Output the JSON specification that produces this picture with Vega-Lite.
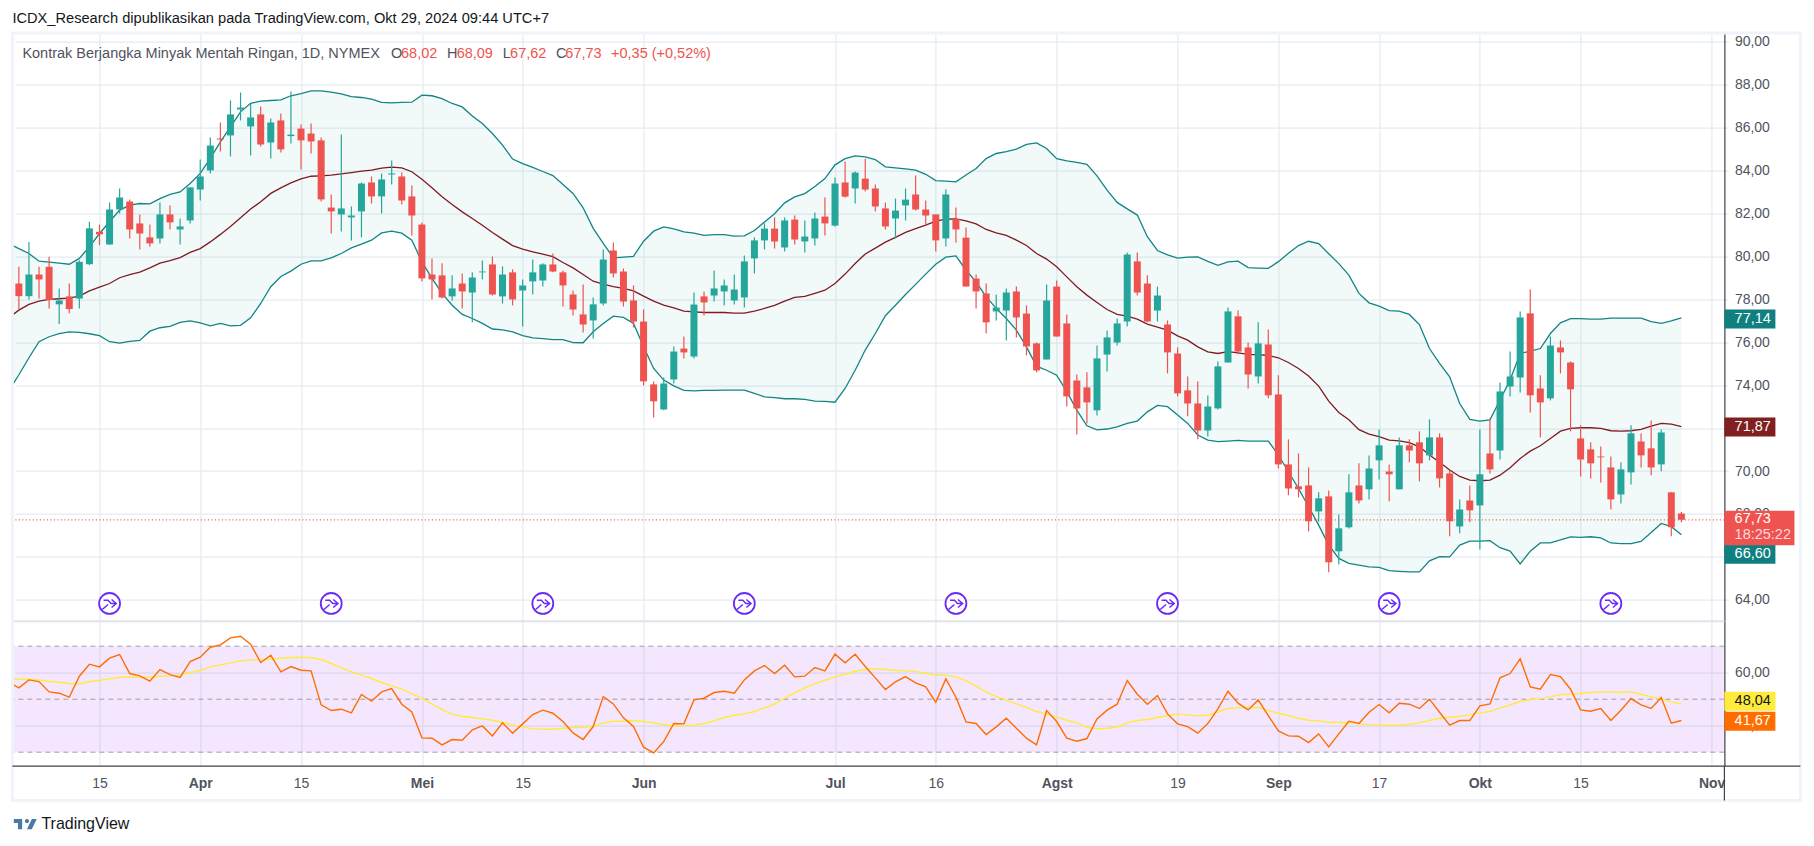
{
  "$schema": "https://vega.github.io/schema/vega-lite/v6.json",
  "background": "white",
  "padding": {"left": 10.4, "top": 10.6, "right": 0, "bottom": 0},
  "title": {"text": "ICDX_Research dipublikasikan pada TradingView.com, Okt 29, 2024 09:44 UTC+7", "anchor": "start", "frame": "group", "font": "Liberation Sans", "fontSize": 14.65, "fontWeight": "normal", "color": "#131722", "offset": 6},
  "datasets": {
    "bars": [
      {"date":"2024-03-04","up":80.59,"mid":77.14,"lo":73.74,"rsi":56.41,"ma":57.54},
      {"date":"2024-03-05","o":78.74,"h":79.52,"l":77.53,"c":78.15,"up":80.37,"mid":77.50,"lo":74.49,"rsi":54.27,"ma":57.54},
      {"date":"2024-03-06","o":78.15,"h":80.68,"l":78.00,"c":79.16,"up":80.14,"mid":77.77,"lo":75.28,"rsi":57.29,"ma":57.54},
      {"date":"2024-03-07","o":79.16,"h":79.52,"l":78.04,"c":78.93,"up":79.78,"mid":77.92,"lo":76.03,"rsi":56.66,"ma":57.29},
      {"date":"2024-03-08","o":79.52,"h":79.99,"l":77.58,"c":77.97,"up":79.74,"mid":78.00,"lo":76.26,"rsi":52.76,"ma":56.66},
      {"date":"2024-03-11","o":77.77,"h":78.51,"l":76.85,"c":77.95,"up":79.69,"mid":78.03,"lo":76.41,"rsi":52.26,"ma":56.41},
      {"date":"2024-03-12","o":78.14,"h":78.74,"l":77.35,"c":77.55,"up":79.64,"mid":78.06,"lo":76.49,"rsi":50.75,"ma":55.91},
      {"date":"2024-03-13","o":78.04,"h":79.83,"l":77.58,"c":79.75,"up":79.91,"mid":78.15,"lo":76.46,"rsi":58.68,"ma":55.78},
      {"date":"2024-03-14","o":79.64,"h":81.62,"l":79.60,"c":81.31,"up":80.45,"mid":78.40,"lo":76.40,"rsi":63.21,"ma":56.66},
      {"date":"2024-03-15","o":81.15,"h":81.49,"l":80.53,"c":81.03,"up":81.07,"mid":78.57,"lo":76.31,"rsi":62.20,"ma":57.17},
      {"date":"2024-03-18","o":80.56,"h":82.52,"l":80.54,"c":82.19,"up":81.62,"mid":78.74,"lo":76.03,"rsi":65.47,"ma":57.67},
      {"date":"2024-03-19","o":82.19,"h":83.17,"l":82.00,"c":82.75,"up":82.16,"mid":79.01,"lo":75.96,"rsi":66.85,"ma":58.30},
      {"date":"2024-03-20","o":82.56,"h":82.66,"l":80.84,"c":81.26,"up":82.39,"mid":79.15,"lo":76.04,"rsi":59.68,"ma":58.42},
      {"date":"2024-03-21","o":81.54,"h":81.96,"l":80.33,"c":81.07,"up":82.47,"mid":79.27,"lo":76.09,"rsi":58.80,"ma":58.30},
      {"date":"2024-03-22","o":80.89,"h":81.49,"l":80.45,"c":80.61,"up":82.45,"mid":79.47,"lo":76.52,"rsi":56.79,"ma":58.42},
      {"date":"2024-03-25","o":80.84,"h":82.52,"l":80.61,"c":81.96,"up":82.70,"mid":79.69,"lo":76.68,"rsi":61.19,"ma":58.68},
      {"date":"2024-03-26","o":81.96,"h":82.38,"l":81.26,"c":81.59,"up":82.89,"mid":79.81,"lo":76.74,"rsi":59.30,"ma":58.80},
      {"date":"2024-03-27","o":81.26,"h":81.77,"l":80.56,"c":81.40,"up":83.01,"mid":79.95,"lo":76.93,"rsi":58.17,"ma":59.18},
      {"date":"2024-03-28","o":81.68,"h":83.22,"l":81.54,"c":83.22,"up":83.40,"mid":80.19,"lo":77.00,"rsi":64.21,"ma":60.06},
      {"date":"2024-04-01","o":83.12,"h":84.52,"l":82.61,"c":83.73,"up":83.87,"mid":80.37,"lo":76.91,"rsi":65.85,"ma":60.81},
      {"date":"2024-04-02","o":84.01,"h":85.55,"l":83.87,"c":85.17,"up":84.57,"mid":80.68,"lo":76.77,"rsi":69.62,"ma":62.20},
      {"date":"2024-04-03","o":85.50,"h":86.24,"l":84.89,"c":85.45,"up":85.34,"mid":81.03,"lo":76.88,"rsi":70.50,"ma":62.95},
      {"date":"2024-04-04","o":85.64,"h":87.27,"l":84.66,"c":86.62,"up":86.04,"mid":81.40,"lo":76.77,"rsi":73.14,"ma":63.71},
      {"date":"2024-04-05","o":86.85,"h":87.64,"l":86.34,"c":86.94,"up":86.74,"mid":81.80,"lo":76.79,"rsi":73.77,"ma":64.46},
      {"date":"2024-04-08","o":86.06,"h":87.11,"l":84.71,"c":86.48,"up":87.14,"mid":82.21,"lo":77.14,"rsi":70.75,"ma":64.84},
      {"date":"2024-04-09","o":86.62,"h":86.99,"l":85.13,"c":85.22,"up":87.24,"mid":82.55,"lo":77.81,"rsi":63.83,"ma":64.84},
      {"date":"2024-04-10","o":85.31,"h":86.43,"l":84.57,"c":86.24,"up":87.27,"mid":82.94,"lo":78.59,"rsi":66.60,"ma":65.09},
      {"date":"2024-04-11","o":86.34,"h":86.66,"l":84.85,"c":84.99,"up":87.30,"mid":83.20,"lo":79.07,"rsi":60.31,"ma":65.47},
      {"date":"2024-04-12","o":85.61,"h":87.69,"l":85.27,"c":85.68,"up":87.49,"mid":83.43,"lo":79.32,"rsi":62.32,"ma":65.72},
      {"date":"2024-04-15","o":85.96,"h":86.15,"l":84.05,"c":85.41,"up":87.59,"mid":83.62,"lo":79.64,"rsi":60.94,"ma":65.72},
      {"date":"2024-04-16","o":85.73,"h":86.20,"l":84.80,"c":85.36,"up":87.72,"mid":83.74,"lo":79.80,"rsi":60.69,"ma":65.72},
      {"date":"2024-04-17","o":85.41,"h":85.55,"l":82.56,"c":82.66,"up":87.72,"mid":83.76,"lo":79.80,"rsi":47.86,"ma":64.97},
      {"date":"2024-04-18","o":82.28,"h":82.89,"l":81.07,"c":82.10,"up":87.66,"mid":83.79,"lo":79.94,"rsi":45.72,"ma":63.46},
      {"date":"2024-04-19","o":81.96,"h":85.68,"l":81.17,"c":82.24,"up":87.58,"mid":83.85,"lo":80.14,"rsi":46.22,"ma":61.95},
      {"date":"2024-04-22","o":81.82,"h":82.33,"l":80.75,"c":81.91,"up":87.45,"mid":83.91,"lo":80.40,"rsi":44.84,"ma":60.31},
      {"date":"2024-04-23","o":82.10,"h":83.45,"l":80.89,"c":83.40,"up":87.41,"mid":83.98,"lo":80.58,"rsi":51.76,"ma":59.18},
      {"date":"2024-04-24","o":83.45,"h":83.73,"l":82.47,"c":82.80,"up":87.33,"mid":84.02,"lo":80.76,"rsi":49.24,"ma":57.80},
      {"date":"2024-04-25","o":82.80,"h":83.87,"l":82.00,"c":83.59,"up":87.18,"mid":84.12,"lo":81.10,"rsi":52.76,"ma":56.29},
      {"date":"2024-04-26","o":83.82,"h":84.47,"l":83.36,"c":83.87,"up":87.16,"mid":84.16,"lo":81.18,"rsi":54.02,"ma":55.03},
      {"date":"2024-04-29","o":83.73,"h":83.91,"l":82.42,"c":82.61,"up":87.18,"mid":84.13,"lo":81.09,"rsi":48.11,"ma":53.77},
      {"date":"2024-04-30","o":82.80,"h":83.31,"l":80.98,"c":81.91,"up":87.19,"mid":83.95,"lo":80.76,"rsi":45.22,"ma":52.01},
      {"date":"2024-05-01","o":81.49,"h":81.58,"l":78.84,"c":78.98,"up":87.52,"mid":83.60,"lo":79.75,"rsi":35.41,"ma":50.37},
      {"date":"2024-05-02","o":79.16,"h":79.91,"l":78.00,"c":78.93,"up":87.49,"mid":83.20,"lo":78.98,"rsi":35.28,"ma":48.11},
      {"date":"2024-05-03","o":79.12,"h":79.68,"l":78.04,"c":78.09,"up":87.36,"mid":82.78,"lo":78.28,"rsi":32.76,"ma":46.10},
      {"date":"2024-05-06","o":78.14,"h":79.12,"l":77.95,"c":78.51,"up":87.13,"mid":82.42,"lo":77.73,"rsi":34.78,"ma":44.34},
      {"date":"2024-05-07","o":78.74,"h":79.21,"l":77.58,"c":78.37,"up":86.97,"mid":82.08,"lo":77.30,"rsi":34.52,"ma":43.58},
      {"date":"2024-05-08","o":78.32,"h":79.26,"l":76.93,"c":79.02,"up":86.55,"mid":81.77,"lo":77.11,"rsi":38.42,"ma":43.08},
      {"date":"2024-05-09","o":79.26,"h":79.81,"l":78.93,"c":79.30,"up":86.20,"mid":81.46,"lo":76.88,"rsi":39.93,"ma":42.57},
      {"date":"2024-05-10","o":79.63,"h":80.00,"l":78.18,"c":78.23,"up":85.73,"mid":81.12,"lo":76.62,"rsi":36.16,"ma":42.07},
      {"date":"2024-05-13","o":78.14,"h":79.54,"l":77.81,"c":79.16,"up":85.19,"mid":80.81,"lo":76.58,"rsi":41.07,"ma":41.32},
      {"date":"2024-05-14","o":79.26,"h":79.40,"l":77.72,"c":78.00,"up":84.54,"mid":80.51,"lo":76.49,"rsi":37.17,"ma":40.31},
      {"date":"2024-05-15","o":78.42,"h":78.93,"l":76.74,"c":78.65,"up":84.33,"mid":80.34,"lo":76.31,"rsi":40.69,"ma":39.56},
      {"date":"2024-05-16","o":78.84,"h":79.86,"l":78.23,"c":79.26,"up":84.15,"mid":80.22,"lo":76.21,"rsi":44.21,"ma":38.80},
      {"date":"2024-05-17","o":78.88,"h":79.68,"l":78.60,"c":79.63,"up":83.96,"mid":80.11,"lo":76.17,"rsi":45.85,"ma":38.68},
      {"date":"2024-05-20","o":79.63,"h":80.14,"l":79.26,"c":79.30,"up":83.77,"mid":79.99,"lo":76.13,"rsi":44.71,"ma":38.68},
      {"date":"2024-05-21","o":79.26,"h":79.35,"l":77.67,"c":78.65,"up":83.36,"mid":79.72,"lo":76.13,"rsi":41.57,"ma":39.05},
      {"date":"2024-05-22","o":78.23,"h":78.42,"l":77.25,"c":77.53,"up":82.94,"mid":79.47,"lo":75.99,"rsi":37.29,"ma":39.30},
      {"date":"2024-05-23","o":77.30,"h":78.70,"l":76.46,"c":76.83,"up":82.27,"mid":79.16,"lo":75.98,"rsi":34.78,"ma":39.43},
      {"date":"2024-05-24","o":77.02,"h":78.09,"l":76.18,"c":77.77,"up":81.31,"mid":78.85,"lo":76.49,"rsi":39.68,"ma":39.81},
      {"date":"2024-05-28","o":77.81,"h":80.33,"l":77.72,"c":79.86,"up":80.61,"mid":78.71,"lo":76.88,"rsi":51.00,"ma":41.07},
      {"date":"2024-05-29","o":80.28,"h":80.65,"l":79.02,"c":79.21,"up":79.94,"mid":78.60,"lo":77.22,"rsi":48.23,"ma":41.70},
      {"date":"2024-05-30","o":79.30,"h":79.44,"l":77.67,"c":77.90,"up":79.97,"mid":78.51,"lo":77.16,"rsi":42.95,"ma":41.70},
      {"date":"2024-05-31","o":77.95,"h":78.65,"l":76.69,"c":76.97,"up":80.01,"mid":78.40,"lo":76.88,"rsi":39.68,"ma":41.95},
      {"date":"2024-06-03","o":76.97,"h":77.53,"l":73.99,"c":74.18,"up":80.71,"mid":78.15,"lo":75.79,"rsi":31.88,"ma":41.57},
      {"date":"2024-06-04","o":74.04,"h":74.18,"l":72.50,"c":73.25,"up":81.18,"mid":77.92,"lo":74.78,"rsi":29.74,"ma":41.07},
      {"date":"2024-06-05","o":72.87,"h":74.36,"l":72.83,"c":74.08,"up":81.38,"mid":77.73,"lo":74.24,"rsi":34.02,"ma":40.44},
      {"date":"2024-06-06","o":74.27,"h":75.81,"l":74.08,"c":75.57,"up":81.29,"mid":77.61,"lo":73.97,"rsi":40.82,"ma":40.06},
      {"date":"2024-06-07","o":75.71,"h":76.27,"l":75.25,"c":75.53,"up":81.15,"mid":77.45,"lo":73.76,"rsi":40.69,"ma":39.93},
      {"date":"2024-06-10","o":75.34,"h":78.32,"l":75.25,"c":77.76,"up":81.09,"mid":77.42,"lo":73.74,"rsi":49.74,"ma":40.19},
      {"date":"2024-06-11","o":78.14,"h":78.37,"l":77.25,"c":77.86,"up":80.98,"mid":77.39,"lo":73.76,"rsi":50.37,"ma":40.82},
      {"date":"2024-06-12","o":78.18,"h":79.35,"l":77.90,"c":78.51,"up":81.02,"mid":77.39,"lo":73.76,"rsi":52.51,"ma":41.82},
      {"date":"2024-06-13","o":78.37,"h":78.93,"l":77.72,"c":78.65,"up":81.02,"mid":77.39,"lo":73.77,"rsi":53.02,"ma":43.08},
      {"date":"2024-06-14","o":77.95,"h":79.16,"l":77.76,"c":78.46,"up":80.95,"mid":77.36,"lo":73.77,"rsi":52.26,"ma":43.96},
      {"date":"2024-06-17","o":78.09,"h":80.05,"l":77.62,"c":79.77,"up":80.96,"mid":77.36,"lo":73.77,"rsi":57.29,"ma":44.46},
      {"date":"2024-06-18","o":79.91,"h":80.89,"l":79.21,"c":80.75,"up":81.21,"mid":77.45,"lo":73.62,"rsi":60.69,"ma":45.34},
      {"date":"2024-06-20","o":80.75,"h":81.54,"l":80.33,"c":81.30,"up":81.61,"mid":77.58,"lo":73.46,"rsi":62.70,"ma":46.73},
      {"date":"2024-06-21","o":81.30,"h":81.82,"l":80.37,"c":80.70,"up":81.99,"mid":77.72,"lo":73.42,"rsi":59.68,"ma":48.11},
      {"date":"2024-06-24","o":80.42,"h":81.82,"l":80.23,"c":81.68,"up":82.50,"mid":77.92,"lo":73.37,"rsi":62.83,"ma":50.37},
      {"date":"2024-06-25","o":81.72,"h":81.91,"l":80.56,"c":80.79,"up":82.78,"mid":78.09,"lo":73.37,"rsi":58.42,"ma":52.39},
      {"date":"2024-06-26","o":80.70,"h":81.68,"l":80.19,"c":80.93,"up":82.93,"mid":78.14,"lo":73.34,"rsi":58.68,"ma":54.27},
      {"date":"2024-06-27","o":80.84,"h":82.05,"l":80.51,"c":81.77,"up":83.26,"mid":78.28,"lo":73.26,"rsi":61.95,"ma":55.78},
      {"date":"2024-06-28","o":81.86,"h":82.75,"l":80.98,"c":81.54,"up":83.63,"mid":78.43,"lo":73.25,"rsi":60.69,"ma":57.17},
      {"date":"2024-07-01","o":81.44,"h":83.68,"l":81.40,"c":83.40,"up":84.27,"mid":78.74,"lo":73.21,"rsi":66.98,"ma":58.42},
      {"date":"2024-07-02","o":83.45,"h":84.43,"l":82.75,"c":82.79,"up":84.56,"mid":79.18,"lo":73.85,"rsi":63.71,"ma":59.43},
      {"date":"2024-07-03","o":83.17,"h":83.96,"l":82.47,"c":83.91,"up":84.69,"mid":79.67,"lo":74.70,"rsi":66.98,"ma":60.56},
      {"date":"2024-07-05","o":83.63,"h":84.56,"l":83.03,"c":83.12,"up":84.64,"mid":80.12,"lo":75.64,"rsi":62.32,"ma":61.19},
      {"date":"2024-07-08","o":83.17,"h":83.35,"l":82.10,"c":82.33,"up":84.52,"mid":80.39,"lo":76.41,"rsi":58.05,"ma":61.44},
      {"date":"2024-07-09","o":82.24,"h":82.52,"l":81.26,"c":81.40,"up":84.18,"mid":80.67,"lo":77.24,"rsi":53.64,"ma":61.19},
      {"date":"2024-07-10","o":81.77,"h":82.70,"l":80.84,"c":82.14,"up":84.13,"mid":80.89,"lo":77.73,"rsi":56.54,"ma":60.94},
      {"date":"2024-07-11","o":82.38,"h":83.17,"l":81.68,"c":82.65,"up":84.08,"mid":81.12,"lo":78.23,"rsi":58.55,"ma":60.69},
      {"date":"2024-07-12","o":82.89,"h":83.77,"l":82.14,"c":82.19,"up":84.02,"mid":81.30,"lo":78.70,"rsi":56.16,"ma":60.44},
      {"date":"2024-07-15","o":82.19,"h":82.61,"l":81.49,"c":81.91,"up":83.83,"mid":81.46,"lo":79.18,"rsi":54.65,"ma":59.81},
      {"date":"2024-07-16","o":81.96,"h":81.96,"l":80.23,"c":80.75,"up":83.54,"mid":81.65,"lo":79.64,"rsi":48.87,"ma":59.05},
      {"date":"2024-07-17","o":80.84,"h":83.12,"l":80.47,"c":82.89,"up":83.51,"mid":81.74,"lo":79.97,"rsi":57.67,"ma":59.05},
      {"date":"2024-07-18","o":81.75,"h":82.28,"l":80.65,"c":81.26,"up":83.48,"mid":81.75,"lo":80.03,"rsi":50.75,"ma":58.42},
      {"date":"2024-07-19","o":80.88,"h":81.35,"l":78.60,"c":78.60,"up":83.80,"mid":81.66,"lo":79.36,"rsi":41.44,"ma":56.92},
      {"date":"2024-07-22","o":78.97,"h":79.16,"l":77.58,"c":78.37,"up":84.10,"mid":81.52,"lo":78.82,"rsi":40.82,"ma":54.90},
      {"date":"2024-07-23","o":78.28,"h":78.74,"l":76.41,"c":76.93,"up":84.56,"mid":81.26,"lo":78.12,"rsi":36.66,"ma":52.76},
      {"date":"2024-07-24","o":77.44,"h":78.23,"l":77.02,"c":77.62,"up":84.80,"mid":81.10,"lo":77.58,"rsi":39.56,"ma":51.00},
      {"date":"2024-07-25","o":77.48,"h":78.51,"l":76.09,"c":78.32,"up":84.89,"mid":80.98,"lo":77.11,"rsi":42.83,"ma":49.62},
      {"date":"2024-07-26","o":78.37,"h":78.60,"l":76.23,"c":77.16,"up":85.00,"mid":80.76,"lo":76.57,"rsi":39.05,"ma":48.23},
      {"date":"2024-07-29","o":77.34,"h":77.72,"l":75.39,"c":75.81,"up":85.22,"mid":80.51,"lo":75.79,"rsi":35.28,"ma":46.85},
      {"date":"2024-07-30","o":75.95,"h":75.99,"l":74.60,"c":74.69,"up":85.29,"mid":80.14,"lo":74.89,"rsi":32.76,"ma":45.34},
      {"date":"2024-07-31","o":75.20,"h":78.70,"l":75.20,"c":77.95,"up":85.03,"mid":79.88,"lo":74.70,"rsi":45.72,"ma":44.46},
      {"date":"2024-08-01","o":78.60,"h":78.88,"l":76.27,"c":76.27,"up":84.56,"mid":79.52,"lo":74.47,"rsi":41.57,"ma":43.21},
      {"date":"2024-08-02","o":76.88,"h":77.30,"l":73.01,"c":73.48,"up":84.46,"mid":79.05,"lo":73.70,"rsi":35.28,"ma":42.07},
      {"date":"2024-08-05","o":74.22,"h":74.50,"l":71.71,"c":72.92,"up":84.39,"mid":78.59,"lo":72.84,"rsi":34.15,"ma":41.07},
      {"date":"2024-08-06","o":73.90,"h":74.60,"l":72.22,"c":73.20,"up":84.29,"mid":78.20,"lo":72.11,"rsi":35.15,"ma":39.43},
      {"date":"2024-08-07","o":72.83,"h":75.85,"l":72.59,"c":75.25,"up":83.76,"mid":77.86,"lo":71.92,"rsi":42.57,"ma":38.80},
      {"date":"2024-08-08","o":75.43,"h":76.55,"l":74.64,"c":76.23,"up":83.09,"mid":77.53,"lo":71.96,"rsi":45.85,"ma":39.05},
      {"date":"2024-08-09","o":75.99,"h":77.11,"l":75.85,"c":76.88,"up":82.52,"mid":77.30,"lo":72.06,"rsi":48.11,"ma":39.43},
      {"date":"2024-08-12","o":76.97,"h":80.19,"l":76.74,"c":80.09,"up":82.22,"mid":77.22,"lo":72.22,"rsi":57.04,"ma":41.07},
      {"date":"2024-08-13","o":79.77,"h":80.19,"l":78.18,"c":78.32,"up":81.93,"mid":77.08,"lo":72.33,"rsi":51.88,"ma":41.95},
      {"date":"2024-08-14","o":78.74,"h":79.12,"l":76.93,"c":76.97,"up":80.92,"mid":76.85,"lo":72.76,"rsi":48.11,"ma":42.32},
      {"date":"2024-08-15","o":77.48,"h":78.60,"l":76.97,"c":78.18,"up":80.28,"mid":76.71,"lo":73.06,"rsi":51.38,"ma":43.08},
      {"date":"2024-08-16","o":76.83,"h":77.02,"l":74.55,"c":75.53,"up":80.08,"mid":76.57,"lo":73.00,"rsi":44.46,"ma":43.83},
      {"date":"2024-08-19","o":75.48,"h":75.76,"l":73.48,"c":73.62,"up":79.92,"mid":76.30,"lo":72.61,"rsi":40.69,"ma":44.46},
      {"date":"2024-08-20","o":73.76,"h":74.41,"l":72.55,"c":73.15,"up":79.97,"mid":76.10,"lo":72.22,"rsi":39.68,"ma":44.09},
      {"date":"2024-08-21","o":73.15,"h":74.18,"l":71.48,"c":71.89,"up":79.98,"mid":75.79,"lo":71.68,"rsi":37.17,"ma":43.71},
      {"date":"2024-08-22","o":71.89,"h":73.52,"l":71.61,"c":73.01,"up":79.77,"mid":75.56,"lo":71.44,"rsi":40.82,"ma":43.96},
      {"date":"2024-08-23","o":72.92,"h":75.11,"l":72.87,"c":74.88,"up":79.59,"mid":75.48,"lo":71.37,"rsi":46.35,"ma":45.09},
      {"date":"2024-08-26","o":75.06,"h":77.62,"l":75.06,"c":77.44,"up":79.75,"mid":75.57,"lo":71.40,"rsi":53.02,"ma":46.48},
      {"date":"2024-08-27","o":77.21,"h":77.49,"l":75.44,"c":75.57,"up":79.78,"mid":75.51,"lo":71.43,"rsi":48.49,"ma":46.73},
      {"date":"2024-08-28","o":75.76,"h":75.99,"l":73.85,"c":74.50,"up":79.48,"mid":75.44,"lo":71.40,"rsi":45.97,"ma":46.85},
      {"date":"2024-08-29","o":74.41,"h":76.93,"l":74.08,"c":75.95,"up":79.46,"mid":75.42,"lo":71.40,"rsi":49.74,"ma":46.85},
      {"date":"2024-08-30","o":75.90,"h":76.60,"l":73.39,"c":73.53,"up":79.45,"mid":75.39,"lo":71.40,"rsi":43.83,"ma":45.72},
      {"date":"2024-09-03","o":73.57,"h":74.46,"l":70.12,"c":70.31,"up":79.76,"mid":75.28,"lo":70.75,"rsi":38.05,"ma":44.71},
      {"date":"2024-09-04","o":70.31,"h":71.48,"l":68.87,"c":69.19,"up":80.15,"mid":75.06,"lo":69.97,"rsi":36.16,"ma":43.83},
      {"date":"2024-09-05","o":69.29,"h":70.82,"l":68.77,"c":69.15,"up":80.51,"mid":74.78,"lo":69.19,"rsi":36.03,"ma":42.83},
      {"date":"2024-09-06","o":69.33,"h":70.17,"l":67.19,"c":67.66,"up":80.71,"mid":74.43,"lo":68.34,"rsi":33.64,"ma":42.07},
      {"date":"2024-09-09","o":68.12,"h":69.01,"l":67.64,"c":68.73,"up":80.60,"mid":73.96,"lo":67.48,"rsi":36.91,"ma":41.82},
      {"date":"2024-09-10","o":68.82,"h":69.10,"l":65.28,"c":65.75,"up":80.13,"mid":73.26,"lo":66.55,"rsi":32.01,"ma":41.32},
      {"date":"2024-09-11","o":66.26,"h":67.98,"l":65.65,"c":67.33,"up":79.67,"mid":72.73,"lo":65.93,"rsi":36.91,"ma":41.19},
      {"date":"2024-09-12","o":67.38,"h":69.85,"l":67.33,"c":69.01,"up":79.13,"mid":72.39,"lo":65.70,"rsi":41.70,"ma":41.19},
      {"date":"2024-09-13","o":69.33,"h":70.36,"l":68.49,"c":68.63,"up":78.28,"mid":71.93,"lo":65.62,"rsi":40.82,"ma":40.82},
      {"date":"2024-09-16","o":69.15,"h":70.73,"l":68.68,"c":70.12,"up":77.84,"mid":71.72,"lo":65.54,"rsi":45.09,"ma":40.31},
      {"date":"2024-09-17","o":70.50,"h":71.94,"l":69.61,"c":71.20,"up":77.69,"mid":71.61,"lo":65.51,"rsi":47.98,"ma":40.31},
      {"date":"2024-09-18","o":69.98,"h":70.31,"l":68.59,"c":69.85,"up":77.48,"mid":71.44,"lo":65.36,"rsi":44.84,"ma":40.19},
      {"date":"2024-09-19","o":69.15,"h":71.57,"l":69.15,"c":71.20,"up":77.45,"mid":71.41,"lo":65.33,"rsi":48.49,"ma":40.19},
      {"date":"2024-09-20","o":71.20,"h":71.48,"l":70.41,"c":70.96,"up":77.30,"mid":71.33,"lo":65.30,"rsi":48.11,"ma":40.56},
      {"date":"2024-09-23","o":71.34,"h":71.85,"l":69.52,"c":70.36,"up":76.83,"mid":71.13,"lo":65.30,"rsi":46.48,"ma":41.07},
      {"date":"2024-09-24","o":70.73,"h":72.41,"l":70.50,"c":71.57,"up":75.71,"mid":70.75,"lo":65.82,"rsi":50.00,"ma":41.95},
      {"date":"2024-09-25","o":71.57,"h":71.76,"l":69.24,"c":69.66,"up":75.02,"mid":70.41,"lo":66.01,"rsi":45.09,"ma":42.83},
      {"date":"2024-09-26","o":69.89,"h":70.03,"l":66.96,"c":67.66,"up":74.39,"mid":70.05,"lo":66.00,"rsi":40.19,"ma":43.21},
      {"date":"2024-09-27","o":67.42,"h":68.68,"l":67.10,"c":68.21,"up":73.15,"mid":69.75,"lo":66.55,"rsi":41.95,"ma":43.58},
      {"date":"2024-09-30","o":68.63,"h":69.33,"l":67.61,"c":68.17,"up":72.41,"mid":69.58,"lo":66.74,"rsi":41.95,"ma":44.09},
      {"date":"2024-10-01","o":68.40,"h":71.94,"l":66.35,"c":69.85,"up":72.33,"mid":69.55,"lo":66.74,"rsi":47.48,"ma":44.84},
      {"date":"2024-10-02","o":70.82,"h":72.45,"l":69.89,"c":70.08,"up":72.39,"mid":69.58,"lo":66.76,"rsi":48.23,"ma":45.34},
      {"date":"2024-10-03","o":70.96,"h":74.13,"l":70.54,"c":73.71,"up":73.31,"mid":69.81,"lo":66.43,"rsi":58.05,"ma":46.60},
      {"date":"2024-10-04","o":73.94,"h":75.57,"l":73.48,"c":74.41,"up":74.24,"mid":70.16,"lo":66.27,"rsi":59.68,"ma":47.86},
      {"date":"2024-10-07","o":74.36,"h":77.44,"l":73.66,"c":77.16,"up":75.48,"mid":70.59,"lo":65.67,"rsi":65.22,"ma":49.12},
      {"date":"2024-10-08","o":77.35,"h":78.46,"l":72.73,"c":73.53,"up":75.59,"mid":70.93,"lo":66.27,"rsi":54.65,"ma":49.87},
      {"date":"2024-10-09","o":73.85,"h":74.46,"l":71.57,"c":73.20,"up":75.71,"mid":71.18,"lo":66.65,"rsi":53.77,"ma":50.12},
      {"date":"2024-10-10","o":73.39,"h":76.27,"l":73.29,"c":75.85,"up":76.41,"mid":71.52,"lo":66.65,"rsi":59.30,"ma":50.88},
      {"date":"2024-10-11","o":75.76,"h":76.09,"l":74.55,"c":75.53,"up":76.91,"mid":71.86,"lo":66.79,"rsi":58.55,"ma":51.76},
      {"date":"2024-10-14","o":75.06,"h":75.11,"l":71.85,"c":73.81,"up":77.10,"mid":71.99,"lo":66.93,"rsi":53.77,"ma":51.88},
      {"date":"2024-10-15","o":71.52,"h":72.13,"l":69.75,"c":70.54,"up":77.10,"mid":72.02,"lo":66.91,"rsi":45.97,"ma":52.13},
      {"date":"2024-10-16","o":71.01,"h":71.34,"l":69.66,"c":70.36,"up":77.08,"mid":72.02,"lo":66.94,"rsi":45.47,"ma":52.51},
      {"date":"2024-10-17","o":70.68,"h":71.15,"l":69.47,"c":70.64,"up":77.08,"mid":71.99,"lo":66.89,"rsi":46.48,"ma":52.76},
      {"date":"2024-10-18","o":70.17,"h":70.68,"l":68.21,"c":68.68,"up":77.13,"mid":71.88,"lo":66.65,"rsi":41.95,"ma":52.76},
      {"date":"2024-10-21","o":68.91,"h":70.41,"l":68.49,"c":70.08,"up":77.13,"mid":71.86,"lo":66.62,"rsi":45.85,"ma":52.64},
      {"date":"2024-10-22","o":69.94,"h":72.13,"l":69.38,"c":71.76,"up":77.13,"mid":71.88,"lo":66.62,"rsi":50.25,"ma":52.76},
      {"date":"2024-10-23","o":71.38,"h":71.76,"l":70.17,"c":70.73,"up":77.13,"mid":71.94,"lo":66.72,"rsi":47.86,"ma":51.88},
      {"date":"2024-10-24","o":71.06,"h":72.36,"l":69.80,"c":70.17,"up":76.96,"mid":72.10,"lo":67.14,"rsi":46.48,"ma":50.88},
      {"date":"2024-10-25","o":70.31,"h":71.94,"l":69.99,"c":71.80,"up":76.88,"mid":72.22,"lo":67.56,"rsi":50.63,"ma":50.12},
      {"date":"2024-10-28","o":69.01,"h":69.01,"l":66.96,"c":67.38,"up":77.00,"mid":72.19,"lo":67.41,"rsi":40.94,"ma":48.87},
      {"date":"2024-10-29","o":68.02,"h":68.09,"l":67.62,"c":67.73,"up":77.14,"mid":72.07,"lo":67.03,"rsi":41.95,"ma":48.23}
    ]
  },
  "data": {"name": "bars"},
  "spacing": 0,
  "bounds": "flush",
  "resolve": {"scale": {"color": "independent"}},
  "config": {
    "view": {"stroke": null},
    "axis": {"labelFont": "Liberation Sans", "labelFontSize": 14, "labelColor": "#50535e", "gridColor": "#e4ebf1", "gridWidth": 1.2, "ticks": false, "title": null, "labelPadding": 10},
    "text": {"font": "Liberation Sans", "fontSize": 14.5, "baseline": "middle", "align": "left"}
  },
  "vconcat": [
    {
      "width": 1712,
      "height": 589.7,
      "layer": [
        {
          "mark": {"type": "area", "color": "#26a69a", "opacity": 0.06, "clip": true},
          "encoding": {
            "x": {
              "field": "date", "type": "ordinal",
              "scale": {"type": "point", "padding": 0, "range": [-3.6, 1709.3], "domain": ["2024-03-04","2024-03-05","2024-03-06","2024-03-07","2024-03-08","2024-03-11","2024-03-12","2024-03-13","2024-03-14","2024-03-15","2024-03-18","2024-03-19","2024-03-20","2024-03-21","2024-03-22","2024-03-25","2024-03-26","2024-03-27","2024-03-28","2024-04-01","2024-04-02","2024-04-03","2024-04-04","2024-04-05","2024-04-08","2024-04-09","2024-04-10","2024-04-11","2024-04-12","2024-04-15","2024-04-16","2024-04-17","2024-04-18","2024-04-19","2024-04-22","2024-04-23","2024-04-24","2024-04-25","2024-04-26","2024-04-29","2024-04-30","2024-05-01","2024-05-02","2024-05-03","2024-05-06","2024-05-07","2024-05-08","2024-05-09","2024-05-10","2024-05-13","2024-05-14","2024-05-15","2024-05-16","2024-05-17","2024-05-20","2024-05-21","2024-05-22","2024-05-23","2024-05-24","2024-05-28","2024-05-29","2024-05-30","2024-05-31","2024-06-03","2024-06-04","2024-06-05","2024-06-06","2024-06-07","2024-06-10","2024-06-11","2024-06-12","2024-06-13","2024-06-14","2024-06-17","2024-06-18","2024-06-20","2024-06-21","2024-06-24","2024-06-25","2024-06-26","2024-06-27","2024-06-28","2024-07-01","2024-07-02","2024-07-03","2024-07-05","2024-07-08","2024-07-09","2024-07-10","2024-07-11","2024-07-12","2024-07-15","2024-07-16","2024-07-17","2024-07-18","2024-07-19","2024-07-22","2024-07-23","2024-07-24","2024-07-25","2024-07-26","2024-07-29","2024-07-30","2024-07-31","2024-08-01","2024-08-02","2024-08-05","2024-08-06","2024-08-07","2024-08-08","2024-08-09","2024-08-12","2024-08-13","2024-08-14","2024-08-15","2024-08-16","2024-08-19","2024-08-20","2024-08-21","2024-08-22","2024-08-23","2024-08-26","2024-08-27","2024-08-28","2024-08-29","2024-08-30","2024-09-03","2024-09-04","2024-09-05","2024-09-06","2024-09-09","2024-09-10","2024-09-11","2024-09-12","2024-09-13","2024-09-16","2024-09-17","2024-09-18","2024-09-19","2024-09-20","2024-09-23","2024-09-24","2024-09-25","2024-09-26","2024-09-27","2024-09-30","2024-10-01","2024-10-02","2024-10-03","2024-10-04","2024-10-07","2024-10-08","2024-10-09","2024-10-10","2024-10-11","2024-10-14","2024-10-15","2024-10-16","2024-10-17","2024-10-18","2024-10-21","2024-10-22","2024-10-23","2024-10-24","2024-10-25","2024-10-28","2024-10-29","2024-10-30","2024-10-31","2024-11-01","2024-11-04"]},
              "axis": {"values": ["2024-03-15","2024-04-01","2024-04-15","2024-05-01","2024-05-15","2024-06-03","2024-07-01","2024-07-16","2024-08-01","2024-08-19","2024-09-03","2024-09-17","2024-10-01","2024-10-15","2024-11-01"], "labels": false, "domain": false, "grid": true}
            },
            "y": {
              "field": "up", "type": "quantitative",
              "scale": {"domain": [63, 90.48], "nice": false, "zero": false},
              "axis": {"orient": "right", "values": [64,66,68,70,72,74,76,78,80,82,84,86,88,90], "labelExpr": "replace(format(datum.value,'.2f'),'.',',')", "domainColor": "#3f4148", "domainWidth": 1.2, "grid": true}
            },
            "y2": {"field": "lo"}
          }
        },
        {"mark": {"type": "line", "color": "#138484", "strokeWidth": 1.3, "clip": true}, "encoding": {"x": {"field": "date", "type": "ordinal"}, "y": {"field": "up", "type": "quantitative"}}},
        {"mark": {"type": "line", "color": "#138484", "strokeWidth": 1.3, "clip": true}, "encoding": {"x": {"field": "date", "type": "ordinal"}, "y": {"field": "lo", "type": "quantitative"}}},
        {"mark": {"type": "line", "color": "#801922", "strokeWidth": 1.3, "clip": true}, "encoding": {"x": {"field": "date", "type": "ordinal"}, "y": {"field": "mid", "type": "quantitative"}}},
        {
          "mark": {"type": "rule", "strokeWidth": 1.2},
          "encoding": {
            "x": {"field": "date", "type": "ordinal"},
            "y": {"field": "h", "type": "quantitative"},
            "y2": {"field": "l"},
            "color": {"condition": {"test": "datum.c >= datum.o", "value": "#26a69a"}, "value": "#ef5350"}
          }
        },
        {
          "mark": {"type": "bar", "size": 7},
          "encoding": {
            "x": {"field": "date", "type": "ordinal"},
            "y": {"field": "o", "type": "quantitative"},
            "y2": {"field": "c"},
            "color": {"condition": {"test": "datum.c >= datum.o", "value": "#26a69a"}, "value": "#ef5350"}
          }
        },
        {
          "data": {"values": [{"price": 67.73}]},
          "mark": {"type": "rule", "color": "#ef5350", "strokeDash": [1, 2.5], "strokeWidth": 1.2},
          "encoding": {"y": {"field": "price", "type": "quantitative"}}
        },
        {
          "data": {"values": [{"price": 63}]},
          "mark": {"type": "rule", "color": "#e0e3eb", "strokeWidth": 2},
          "encoding": {"y": {"field": "price", "type": "quantitative"}}
        },
        {
          "data": {"values": [{"date":"2024-03-18","at":63.83},{"date":"2024-04-18","at":63.83},{"date":"2024-05-17","at":63.83},{"date":"2024-06-17","at":63.83},{"date":"2024-07-18","at":63.83},{"date":"2024-08-16","at":63.83},{"date":"2024-09-18","at":63.83},{"date":"2024-10-18","at":63.83}]},
          "mark": {"type": "point", "shape": "circle", "size": 440, "filled": true, "fill": "white", "stroke": "#6a2bf5", "strokeWidth": 1.8, "opacity": 1},
          "encoding": {"x": {"field": "date", "type": "ordinal"}, "y": {"field": "at", "type": "quantitative"}}
        },
        {
          "data": {"values": [{"date":"2024-03-18","at":63.83},{"date":"2024-04-18","at":63.83},{"date":"2024-05-17","at":63.83},{"date":"2024-06-17","at":63.83},{"date":"2024-07-18","at":63.83},{"date":"2024-08-16","at":63.83},{"date":"2024-09-18","at":63.83},{"date":"2024-10-18","at":63.83}]},
          "mark": {"type": "point", "shape": "M-0.6,-0.33H-0.15L0.15,0H0.67M0.2,-0.4L0.67,0L0.2,0.4M-0.73,0.6L-0.15,0.1", "size": 400, "filled": false, "stroke": "#6a2bf5", "strokeWidth": 1.5, "opacity": 1},
          "encoding": {"x": {"field": "date", "type": "ordinal"}, "y": {"field": "at", "type": "quantitative"}}
        },
        {
          "data": {"values": [{"series":"Upper","label":"77,14","at":77.09},{"series":"Middle","label":"71,87","at":72.06},{"series":"Lower","label":"66,60","at":66.12}]},
          "layer": [
            {
              "mark": {"type": "point", "shape": "M0,-1H5.37V1H0Z", "size": 361, "filled": true, "opacity": 1, "xOffset": 2.7},
              "encoding": {
                "x": {"datum": "2024-11-04", "type": "ordinal"},
                "y": {"field": "at", "type": "quantitative"},
                "color": {"field": "series", "type": "nominal", "scale": {"domain": ["Upper","Middle","Lower"], "range": ["#0f7f7f","#801f1f","#0f7f7f"]}, "legend": null}
              }
            },
            {
              "mark": {"type": "text", "color": "white", "dx": 12.9},
              "encoding": {
                "x": {"datum": "2024-11-04", "type": "ordinal"},
                "y": {"field": "at", "type": "quantitative"},
                "text": {"field": "label"}
              }
            }
          ]
        },
        {
          "data": {"values": [{"at": 67.35}]},
          "mark": {"type": "point", "shape": "M0,-1H4.05V1H0Z", "size": 1197, "filled": true, "opacity": 1, "color": "#ef5350", "xOffset": 2.7},
          "encoding": {"x": {"datum": "2024-11-04", "type": "ordinal"}, "y": {"field": "at", "type": "quantitative"}}
        },
        {
          "data": {"values": [{"at": 67.79, "label": "67,73"}]},
          "mark": {"type": "text", "color": "white", "dx": 12.9},
          "encoding": {"x": {"datum": "2024-11-04", "type": "ordinal"}, "y": {"field": "at", "type": "quantitative"}, "text": {"field": "label"}}
        },
        {
          "data": {"values": [{"at": 67.04, "label": "18:25:22"}]},
          "mark": {"type": "text", "color": "#fbdcdc", "dx": 12.9},
          "encoding": {"x": {"datum": "2024-11-04", "type": "ordinal"}, "y": {"field": "at", "type": "quantitative"}, "text": {"field": "label"}}
        },
        {"data": {"values": [{"date":"2024-03-05","at":89.42,"label":"Kontrak Berjangka Minyak Mentah Ringan, 1D, NYMEX"}]}, "mark": {"type":"text","color":"#50535e","dx":3.5}, "encoding": {"x":{"field":"date","type":"ordinal"},"y":{"field":"at","type":"quantitative"},"text":{"field":"label"}}},
        {"data": {"values": [{"date":"2024-04-26","at":89.42,"label":"O"}]}, "mark": {"type":"text","color":"#50535e","dx":-0.6}, "encoding": {"x":{"field":"date","type":"ordinal"},"y":{"field":"at","type":"quantitative"},"text":{"field":"label"}}},
        {"data": {"values": [{"date":"2024-04-29","at":89.42,"label":"68,02"}]}, "mark": {"type":"text","color":"#ef5350","dx":-0.7}, "encoding": {"x":{"field":"date","type":"ordinal"},"y":{"field":"at","type":"quantitative"},"text":{"field":"label"}}},
        {"data": {"values": [{"date":"2024-05-03","at":89.42,"label":"H"}]}, "mark": {"type":"text","color":"#50535e","dx":5}, "encoding": {"x":{"field":"date","type":"ordinal"},"y":{"field":"at","type":"quantitative"},"text":{"field":"label"}}},
        {"data": {"values": [{"date":"2024-05-06","at":89.42,"label":"68,09"}]}, "mark": {"type":"text","color":"#ef5350","dx":4.5}, "encoding": {"x":{"field":"date","type":"ordinal"},"y":{"field":"at","type":"quantitative"},"text":{"field":"label"}}},
        {"data": {"values": [{"date":"2024-05-13","at":89.42,"label":"L"}]}, "mark": {"type":"text","color":"#50535e","dx":0.2}, "encoding": {"x":{"field":"date","type":"ordinal"},"y":{"field":"at","type":"quantitative"},"text":{"field":"label"}}},
        {"data": {"values": [{"date":"2024-05-14","at":89.42,"label":"67,62"}]}, "mark": {"type":"text","color":"#ef5350","dx":-2.5}, "encoding": {"x":{"field":"date","type":"ordinal"},"y":{"field":"at","type":"quantitative"},"text":{"field":"label"}}},
        {"data": {"values": [{"date":"2024-05-20","at":89.42,"label":"C"}]}, "mark": {"type":"text","color":"#50535e","dx":3.2}, "encoding": {"x":{"field":"date","type":"ordinal"},"y":{"field":"at","type":"quantitative"},"text":{"field":"label"}}},
        {"data": {"values": [{"date":"2024-05-21","at":89.42,"label":"67,73"}]}, "mark": {"type":"text","color":"#ef5350","dx":2.4}, "encoding": {"x":{"field":"date","type":"ordinal"},"y":{"field":"at","type":"quantitative"},"text":{"field":"label"}}},
        {"data": {"values": [{"date":"2024-05-29","at":89.42,"label":"+0,35 (+0,52%)"}]}, "mark": {"type":"text","color":"#ef5350","dx":-2.3}, "encoding": {"x":{"field":"date","type":"ordinal"},"y":{"field":"at","type":"quantitative"},"text":{"field":"label"}}}
      ]
    },
    {
      "width": 1712,
      "height": 144.6,
      "layer": [
        {
          "data": {"values": [{"low": 30, "high": 70}]},
          "mark": {"type": "rect", "color": "#a337ee", "opacity": 0.12},
          "encoding": {"y": {"field": "high", "type": "quantitative"}, "y2": {"field": "low"}}
        },
        {
          "data": {"values": [{"level": 70}, {"level": 50}, {"level": 30}]},
          "mark": {"type": "rule", "color": "#787b86", "strokeDash": [5, 4], "strokeWidth": 1, "opacity": 0.7},
          "encoding": {"y": {"field": "level", "type": "quantitative"}}
        },
        {
          "mark": {"type": "line", "color": "#ffeb3b", "strokeWidth": 1.4, "clip": true},
          "encoding": {
            "x": {
              "field": "date", "type": "ordinal",
              "scale": {"type": "point", "padding": 0, "range": [-3.6, 1709.3], "domain": ["2024-03-04","2024-03-05","2024-03-06","2024-03-07","2024-03-08","2024-03-11","2024-03-12","2024-03-13","2024-03-14","2024-03-15","2024-03-18","2024-03-19","2024-03-20","2024-03-21","2024-03-22","2024-03-25","2024-03-26","2024-03-27","2024-03-28","2024-04-01","2024-04-02","2024-04-03","2024-04-04","2024-04-05","2024-04-08","2024-04-09","2024-04-10","2024-04-11","2024-04-12","2024-04-15","2024-04-16","2024-04-17","2024-04-18","2024-04-19","2024-04-22","2024-04-23","2024-04-24","2024-04-25","2024-04-26","2024-04-29","2024-04-30","2024-05-01","2024-05-02","2024-05-03","2024-05-06","2024-05-07","2024-05-08","2024-05-09","2024-05-10","2024-05-13","2024-05-14","2024-05-15","2024-05-16","2024-05-17","2024-05-20","2024-05-21","2024-05-22","2024-05-23","2024-05-24","2024-05-28","2024-05-29","2024-05-30","2024-05-31","2024-06-03","2024-06-04","2024-06-05","2024-06-06","2024-06-07","2024-06-10","2024-06-11","2024-06-12","2024-06-13","2024-06-14","2024-06-17","2024-06-18","2024-06-20","2024-06-21","2024-06-24","2024-06-25","2024-06-26","2024-06-27","2024-06-28","2024-07-01","2024-07-02","2024-07-03","2024-07-05","2024-07-08","2024-07-09","2024-07-10","2024-07-11","2024-07-12","2024-07-15","2024-07-16","2024-07-17","2024-07-18","2024-07-19","2024-07-22","2024-07-23","2024-07-24","2024-07-25","2024-07-26","2024-07-29","2024-07-30","2024-07-31","2024-08-01","2024-08-02","2024-08-05","2024-08-06","2024-08-07","2024-08-08","2024-08-09","2024-08-12","2024-08-13","2024-08-14","2024-08-15","2024-08-16","2024-08-19","2024-08-20","2024-08-21","2024-08-22","2024-08-23","2024-08-26","2024-08-27","2024-08-28","2024-08-29","2024-08-30","2024-09-03","2024-09-04","2024-09-05","2024-09-06","2024-09-09","2024-09-10","2024-09-11","2024-09-12","2024-09-13","2024-09-16","2024-09-17","2024-09-18","2024-09-19","2024-09-20","2024-09-23","2024-09-24","2024-09-25","2024-09-26","2024-09-27","2024-09-30","2024-10-01","2024-10-02","2024-10-03","2024-10-04","2024-10-07","2024-10-08","2024-10-09","2024-10-10","2024-10-11","2024-10-14","2024-10-15","2024-10-16","2024-10-17","2024-10-18","2024-10-21","2024-10-22","2024-10-23","2024-10-24","2024-10-25","2024-10-28","2024-10-29","2024-10-30","2024-10-31","2024-11-01","2024-11-04"]},
              "axis": {
                "values": ["2024-03-15","2024-04-01","2024-04-15","2024-05-01","2024-05-15","2024-06-03","2024-07-01","2024-07-16","2024-08-01","2024-08-19","2024-09-03","2024-09-17","2024-10-01","2024-10-15","2024-11-01"],
                "labelExpr": "{'2024-03-15':'15','2024-04-01':'Apr','2024-04-15':'15','2024-05-01':'Mei','2024-05-15':'15','2024-06-03':'Jun','2024-07-01':'Jul','2024-07-16':'16','2024-08-01':'Agst','2024-08-19':'19','2024-09-03':'Sep','2024-09-17':'17','2024-10-01':'Okt','2024-10-15':'15','2024-11-01':'Nov'}[datum.value]",
                "labelAngle": 0, "labelOverlap": false, "labelPadding": 10, "domain": false, "grid": true,
                "labelFontWeight": {"condition": {"test": "indexof(['2024-04-01','2024-05-01','2024-06-03','2024-07-01','2024-08-01','2024-09-03','2024-10-01','2024-11-01'], datum.value) >= 0", "value": "bold"}, "value": "normal"}
              }
            },
            "y": {
              "field": "ma", "type": "quantitative",
              "scale": {"domain": [24.72, 79.28], "nice": false, "zero": false},
              "axis": {"orient": "right", "values": [40, 60], "labelExpr": "replace(format(datum.value,'.2f'),'.',',')", "domainColor": "#3f4148", "domainWidth": 1.2, "grid": true}
            }
          }
        },
        {"mark": {"type": "line", "color": "#ff6d00", "strokeWidth": 1.4, "clip": true}, "encoding": {"x": {"field": "date", "type": "ordinal"}, "y": {"field": "rsi", "type": "quantitative"}}},
        {
          "data": {"values": [{"series":"RSI average","label":"48,04","at":49.25},{"series":"RSI","label":"41,67","at":41.7}]},
          "layer": [
            {
              "mark": {"type": "point", "shape": "M0,-1H5.37V1H0Z", "size": 361, "filled": true, "opacity": 1, "xOffset": 2.7},
              "encoding": {
                "x": {"datum": "2024-11-04", "type": "ordinal"},
                "y": {"field": "at", "type": "quantitative"},
                "color": {"field": "series", "type": "nominal", "scale": {"domain": ["RSI average","RSI"], "range": ["#ffeb3b","#ff6d00"]}, "legend": null}
              }
            },
            {
              "mark": {"type": "text", "dx": 12.9},
              "encoding": {
                "x": {"datum": "2024-11-04", "type": "ordinal"},
                "y": {"field": "at", "type": "quantitative"},
                "text": {"field": "label"},
                "color": {"condition": {"test": "datum.series == 'RSI'", "value": "white"}, "value": "#131722"}
              }
            }
          ]
        },
        {
          "data": {"values": [{"from": "2024-03-04", "to": "2024-11-04", "top": 301.4, "bottom": 11.8}]},
          "mark": {"type": "rect", "fillOpacity": 0, "stroke": "#f0f3fa", "strokeWidth": 3, "xOffset": 3.6, "x2Offset": 78.7},
          "encoding": {"x": {"field": "from", "type": "ordinal"}, "x2": {"field": "to"}, "y": {"field": "top", "type": "quantitative"}, "y2": {"field": "bottom"}}
        },
        {
          "data": {"values": [{"from": "2024-03-04", "to": "2024-11-04", "at": 24.72}]},
          "mark": {"type": "rule", "color": "#3f4148", "strokeWidth": 1.2, "xOffset": 3.6, "x2Offset": 78.7},
          "encoding": {"x": {"field": "from", "type": "ordinal"}, "x2": {"field": "to"}, "y": {"field": "at", "type": "quantitative"}}
        },
        {
          "data": {"values": [{"at": 24.72, "end": 11.8}]},
          "mark": {"type": "rule", "color": "#3f4148", "strokeWidth": 1.2, "xOffset": 2.7},
          "encoding": {"x": {"datum": "2024-11-04", "type": "ordinal"}, "y": {"field": "at", "type": "quantitative"}, "y2": {"field": "end"}}
        },
        {
          "data": {"values": [{"date": "2024-03-05", "at": 50, "brand": "TradingView"}]},
          "mark": {"type": "point", "filled": true, "opacity": 0},
          "encoding": {
            "x": {"field": "date", "type": "ordinal"},
            "y": {"field": "at", "type": "quantitative"},
            "shape": {
              "field": "brand", "type": "nominal",
              "scale": {"domain": ["TradingView"], "range": ["M-0.222,-0.417H-0.889V-0.083H-0.556V0.417H-0.222ZM0.556,0.417H0.167L0.556,-0.417H0.944ZM0.167,-0.083A0.167,0.167 0 1 0 0.167,-0.417A0.167,0.167 0 0 0 0.167,-0.083Z"]},
              "legend": {"orient": "none", "legendX": 0, "legendY": 780, "title": null, "symbolSize": 625, "symbolOpacity": 1, "symbolFillColor": "#131722", "symbolStrokeWidth": 0, "labelFont": "Liberation Sans", "labelFontSize": 16, "labelColor": "#131722", "labelOpacity": 1}
            }
          }
        }
      ]
    }
  ]
}
